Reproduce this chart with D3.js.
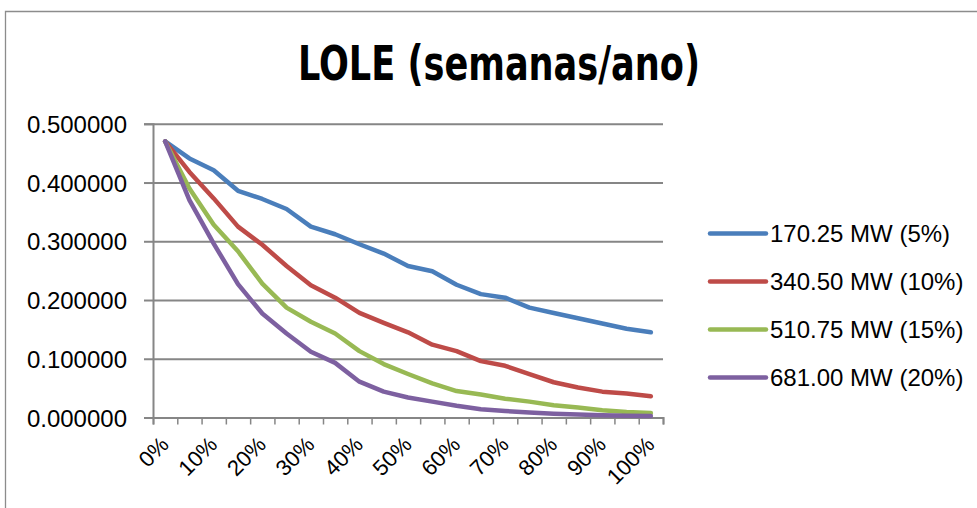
<!DOCTYPE html>
<html>
<head>
<meta charset="utf-8">
<script src="https://cdn.jsdelivr.net/npm/d3@7"></script>
<style>
  html, body { margin: 0; padding: 0; background: #fff; }
  svg { display: block; }
  text { font-family: "Liberation Sans", Arial, sans-serif; fill: #000; }
</style>
</head>
<body>
<div id="chart"></div>
<script>
// x categories (share of wind), every other one is labelled
var categories = ["0%","5%","10%","15%","20%","25%","30%","35%","40%","45%","50%",
	"55%","60%","65%","70%","75%","80%","85%","90%","95%","100%"]
var labelled = ["0%","10%","20%","30%","40%","50%","60%","70%","80%","90%","100%"]

// series values, LOLE in weeks/year
var mw170 = [0.470,0.441,0.421,0.386,0.372,0.355,0.325,0.312,0.295,0.279,0.258,
	0.249,0.226,0.210,0.204,0.187,0.178,0.169,0.160,0.151,0.145]
var mw340 = [0.470,0.418,0.373,0.325,0.294,0.258,0.225,0.204,0.178,0.161,0.145,
	0.124,0.113,0.096,0.088,0.074,0.060,0.051,0.044,0.041,0.036]
var mw510 = [0.470,0.390,0.328,0.283,0.228,0.187,0.163,0.143,0.113,0.091,0.074,
	0.058,0.045,0.039,0.032,0.027,0.021,0.017,0.0125,0.0095,0.0075]
var mw681 = [0.470,0.370,0.296,0.227,0.177,0.143,0.112,0.093,0.061,0.044,0.034,
	0.027,0.020,0.014,0.011,0.0085,0.0065,0.005,0.004,0.003,0.0025]

var seriesNames = ["170.25 MW (5%)","340.50 MW (10%)","510.75 MW (15%)","681.00 MW (20%)"]
var seriesColors = ["#4a7ebb","#be4b48","#98b954","#7d60a0"]
var seriesValues = [mw170, mw340, mw510, mw681]

var yTicks = [0, 0.1, 0.2, 0.3, 0.4, 0.5]

var W = 977, H = 508
var plot = {left: 153, right: 663, top: 123.8, bottom: 417.5}

var svg = d3.select("#chart").append("svg")
	.attr("width", W)
	.attr("height", H)

// chart area border (only top and left visible in the crop)
svg.append("path")
	.attr("d", "M5.5," + H + "V11.5H" + W)
	.attr("fill", "none")
	.attr("stroke", "#8c8c8c")
	.attr("stroke-width", 1.3)

// title
svg.append("text")
	.attr("x", 499)
	.attr("y", 80)
	.attr("text-anchor", "middle")
	.attr("textLength", 402)
	.attr("lengthAdjust", "spacingAndGlyphs")
	.style("font-family", "'Liberation Sans Narrow','DejaVu Sans Condensed','Liberation Sans',sans-serif")
	.style("font-weight", "bold")
	.style("font-size", "48px")
	.text("LOLE (semanas/ano)")

var xScale = d3.scaleBand()
	.domain(categories)
	.range([plot.left, plot.right])
	.padding(0)

var xEdges = d3.scaleLinear()
	.domain([0, categories.length])
	.range([plot.left, plot.right])

var yScale = d3.scaleLinear()
	.domain([0, 0.5])
	.range([plot.bottom, plot.top])

// horizontal gridlines
svg.append("g")
	.attr("transform", "translate(" + plot.left + ",0)")
	.call(d3.axisLeft(yScale).tickValues(yTicks).tickSize(-(plot.right - plot.left)).tickFormat(""))
	.call(function(g){
		g.select(".domain").remove()
		g.selectAll("line").attr("stroke", "#868686").attr("stroke-width", 2)
	})

// y axis with labels
svg.append("g")
	.attr("transform", "translate(" + plot.left + ",0)")
	.call(d3.axisLeft(yScale).tickValues(yTicks).tickSize(9).tickPadding(17).tickFormat(d3.format(".6f")))
	.call(function(g){
		g.select(".domain").attr("stroke", "#868686").attr("stroke-width", 2)
		g.selectAll("line").attr("stroke", "#868686").attr("stroke-width", 2)
		g.selectAll("text").style("font-size", "24px").attr("dy", "0.36em")
	})

// x axis: tick marks on category edges
svg.append("g")
	.attr("transform", "translate(0," + plot.bottom + ")")
	.call(d3.axisBottom(xEdges).tickValues(d3.range(categories.length + 1)).tickSize(7).tickFormat(""))
	.call(function(g){
		g.select(".domain").attr("stroke", "#868686").attr("stroke-width", 2)
		g.selectAll("line").attr("stroke", "#868686").attr("stroke-width", 1.5)
	})

// x labels, rotated
svg.append("g")
	.selectAll("text")
	.data(labelled)
	.enter()
	.append("text")
	.attr("transform", function(d){
		var cx = xScale(d) + xScale.bandwidth() / 2 + 5
		return "translate(" + cx + ",446) rotate(-45)"
	})
	.attr("text-anchor", "end")
	.style("font-size", "22px")
	.text(function(d){ return d })

// lines
var line = d3.line()
	.x(function(d, i){ return xScale(categories[i]) + xScale.bandwidth() / 2 })
	.y(function(d){ return yScale(d) })

svg.append("g")
	.selectAll("path")
	.data(seriesValues)
	.enter()
	.append("path")
	.attr("d", line)
	.attr("fill", "none")
	.attr("stroke", function(d, i){ return seriesColors[i] })
	.attr("stroke-width", 4.5)
	.attr("stroke-linejoin", "round")
	.attr("stroke-linecap", "round")

// legend
var legend = svg.append("g")
	.selectAll("g")
	.data(seriesNames)
	.enter()
	.append("g")
	.attr("transform", function(d, i){ return "translate(710," + (233.5 + i * 48) + ")" })

legend.append("line")
	.attr("x1", 0).attr("x2", 56)
	.attr("y1", 0).attr("y2", 0)
	.attr("stroke", function(d, i){ return seriesColors[i] })
	.attr("stroke-width", 4.5)
	.attr("stroke-linecap", "round")

legend.append("text")
	.attr("x", 60)
	.attr("y", 8.5)
	.style("font-size", "24px")
	.text(function(d){ return d })
</script>
</body>
</html>
